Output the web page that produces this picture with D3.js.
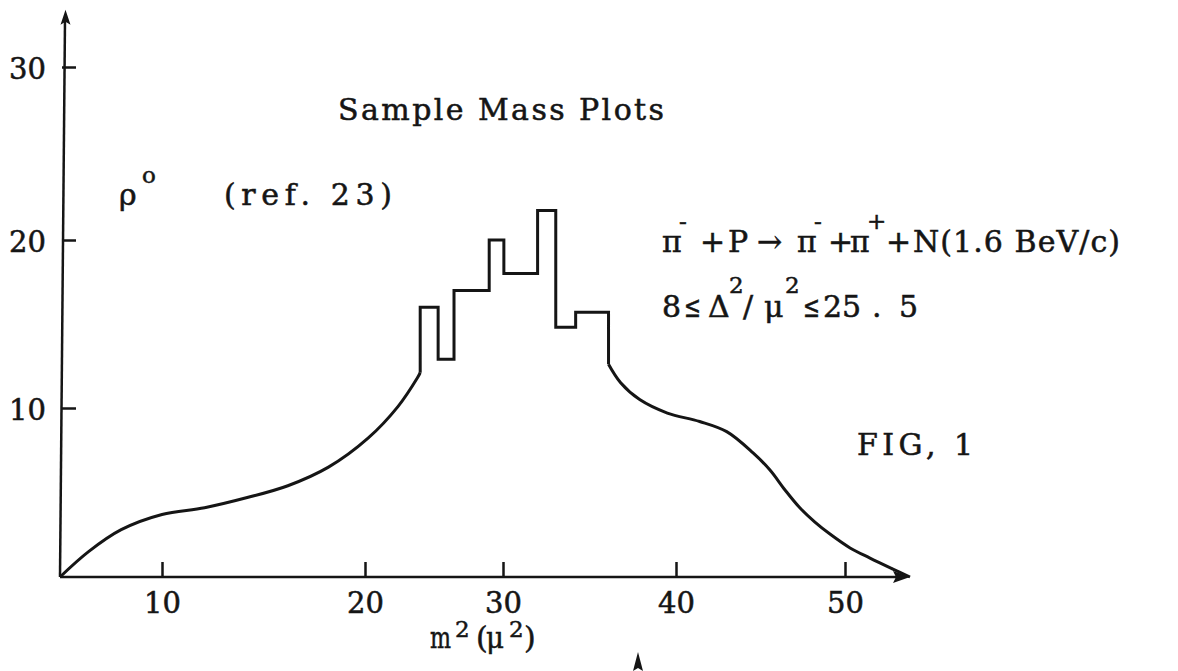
<!DOCTYPE html>
<html>
<head>
<meta charset="utf-8">
<script src="https://cdnjs.cloudflare.com/ajax/libs/d3/7.8.5/d3.min.js"></script>
<style>
  body { margin: 0; background: #fff; }
  svg text {
    font-family: "DejaVu Serif", "Liberation Serif", serif;
    font-size: 30px;
    fill: #151515;
    stroke: #151515;
    stroke-width: 0.55px;
  }
  svg text.sup { font-size: 23px; }
  .axis text { font-size: 29px; }
  .axis .tick line { stroke: #151515; stroke-width: 2.5px; }
</style>
</head>
<body>
<div id="chart"></div>
<script>
// m^2 (units of mu^2) vs events: smooth phase-space curve on both sides of the histogram
var leftCurveX = [5, 6.4, 8.0, 10, 12.1, 14.2, 16.2, 18.2, 20.2, 22.4, 23.8, 24];
var leftCurveY = [0, 1.5, 2.8, 3.7, 4.1, 4.7, 5.4, 6.5, 8.2, 10.1, 11.8, 12.1];

// rho region histogram
var binEdges = [24, 25.3, 26.45, 29, 30.05, 32, 33.05, 34.2, 36.1];
var binCounts = [16, 12.9, 17, 20, 18, 21.7, 14.8, 15.7];

var rightCurveX = [36.1, 36.8, 37.9, 39.5, 41.4, 43.0, 44.56, 45.56, 46.45, 47.34, 48.22, 49.11, 50.3, 51.48, 52.84, 53.85];
var rightCurveY = [12.6, 11.5, 10.5, 9.7, 9.2, 8.6, 7.34, 6.33, 5.15, 4.08, 3.25, 2.54, 1.72, 1.12, 0.47, 0];

var xTicks = [10, 20, 30, 40, 50];
var yTicks = [10, 20, 30];

var width = 1178, height = 671;
var ink = "#151515";

var svg = d3.select("#chart").append("svg")
    .attr("width", width)
    .attr("height", height);

// the axis was ruled by hand, so tick spacing is not even
var x = d3.scaleLinear()
    .domain([5, 10, 20, 30, 40, 50, 53.85])
    .range([60, 162, 365, 503, 676, 845, 910]);

var y = d3.scaleLinear()
    .domain([0, 10, 20, 30])
    .range([577, 408, 240, 67]);

// X axis
var gx = svg.append("g")
    .attr("class", "axis")
    .attr("transform", "translate(0," + y(0) + ")")
    .call(d3.axisBottom(x).tickValues(xTicks).tickSize(-15).tickPadding(15).tickFormat(d3.format("d")));
gx.select(".domain").remove();
gx.attr("font-family", null).attr("font-size", null);

svg.append("line")
    .attr("x1", x(5)).attr("y1", y(0))
    .attr("x2", x(53.85) - 8).attr("y2", y(0))
    .attr("stroke", ink).attr("stroke-width", 2.5);

svg.append("path")
    .attr("d", "M" + x(53.85) + "," + y(0) + " l-17,-6 l3,6 l-3,6 z")
    .attr("fill", ink);

// Y axis, ticks pointing inward
var gy = svg.append("g")
    .attr("class", "axis")
    .attr("transform", "translate(62,0)")
    .call(d3.axisLeft(y).tickValues(yTicks).tickSize(-14).tickPadding(16));
gy.select(".domain").remove();
gy.attr("font-family", null).attr("font-size", null);
gy.selectAll(".tick text").attr("dy", "0.4em");

var yTop = y(33.2);
svg.append("line")
    .attr("x1", x(5)).attr("y1", y(0))
    .attr("x2", x(5) + 5).attr("y2", yTop + 8)
    .attr("stroke", ink).attr("stroke-width", 2.5);

svg.append("path")
    .attr("d", "M" + (x(5) + 5.5) + "," + (yTop - 2) + " l-5,15 l5,-3 l5,3 z")
    .attr("fill", ink);

// curves
var line = d3.line()
    .x(function(d) { return x(d[0]); })
    .y(function(d) { return y(d[1]); })
    .curve(d3.curveCatmullRom.alpha(0.5));

var leftPts = leftCurveX.map(function(v, i) { return [v, leftCurveY[i]]; });
var rightPts = rightCurveX.map(function(v, i) { return [v, rightCurveY[i]]; });

svg.append("path")
    .attr("d", line(leftPts))
    .attr("fill", "none").attr("stroke", ink).attr("stroke-width", 3);

svg.append("path")
    .attr("d", line(rightPts))
    .attr("fill", "none").attr("stroke", ink).attr("stroke-width", 3);

// histogram outline
var histPts = [[binEdges[0], leftCurveY[leftCurveY.length - 1]]];
binCounts.forEach(function(c, i) {
    histPts.push([binEdges[i], c]);
    histPts.push([binEdges[i + 1], c]);
});
histPts.push([binEdges[binEdges.length - 1], rightCurveY[0]]);

svg.append("path")
    .attr("d", d3.line().x(function(d) { return x(d[0]); }).y(function(d) { return y(d[1]); })(histPts))
    .attr("fill", "none").attr("stroke", ink).attr("stroke-width", 3)
    .attr("stroke-linejoin", "miter");

// typed labels: each piece placed on its own, optionally fitted to a width
function label(px, py, str, len, cls, squeeze) {
    var t = svg.append("text").attr("x", px).attr("y", py).text(str);
    if (len) t.attr("textLength", len).attr("lengthAdjust", squeeze ? "spacingAndGlyphs" : "spacing");
    if (cls) t.attr("class", cls);
    return t;
}

// x axis title
label(430, 648, "m", 21, null, true);
label(455, 637, "2", null, "sup");
label(476, 648, "(");
label(486, 648, "μ", 18, null, true);
label(509, 637, "2", null, "sup");
label(524, 648, ")");

// stray arrow mark under the axis
svg.append("path")
    .attr("d", "M638,652 l-5,19 l5,-3 l5,3 z")
    .attr("fill", ink);

label(338, 120, "Sample Mass Plots", 326);

label(119, 205, "ρ");
label(142, 183, "o", null, "sup");
label(224, 205, "(ref. 23)", 168);

// reaction
label(662, 252, "π");
label(679, 229, "-", null, "sup");
label(700, 252, "+");
label(728, 252, "P");
label(757, 252, "→");
label(797, 252, "π");
label(814, 229, "-", null, "sup");
label(828, 252, "+");
label(850, 252, "π");
label(867, 229, "+", null, "sup");
label(886, 252, "+");
label(913, 252, "N(1.6 BeV/c)", 207);

label(662, 317, "8");
label(684, 317, "≤", 17, null, true);
label(708, 317, "Δ");
label(729, 293, "2", null, "sup");
label(743, 317, "/");
label(764, 317, "μ");
label(785, 293, "2", null, "sup");
label(803, 317, "≤", 17, null, true);
label(823, 317, "25");
label(872, 317, ".");
label(899, 317, "5");

label(857, 455, "FIG, 1", 116);
</script>
</body>
</html>
